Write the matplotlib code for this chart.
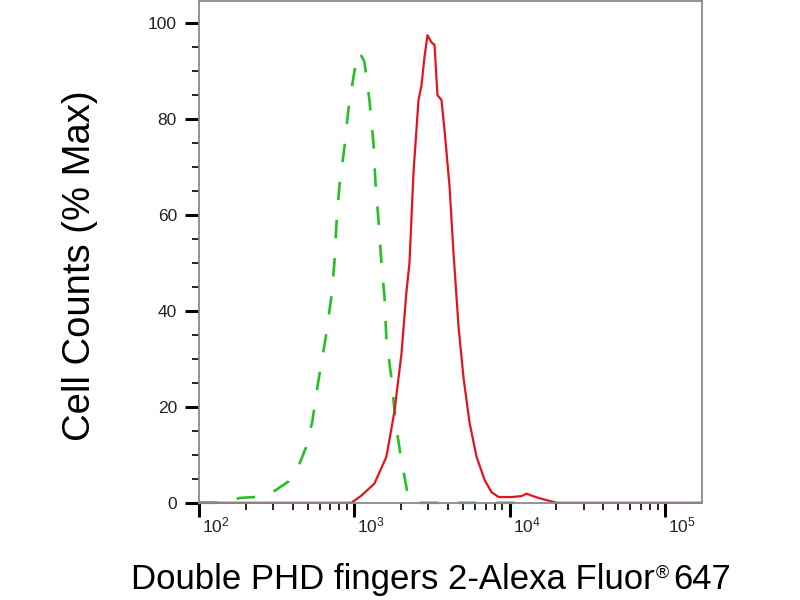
import numpy as np
import matplotlib
matplotlib.use("Agg")
import matplotlib.pyplot as plt
from matplotlib.ticker import MultipleLocator, LogLocator, NullFormatter
from matplotlib.transforms import ScaledTranslation

plt.rcParams['font.family'] = ['Liberation Sans', 'DejaVu Sans']

# isotype control (green, dashed)
ctrl_x = [100, 150, 181, 226, 271, 300, 375, 441, 490, 536, 577, 604, 650, 711,
          743, 766, 800, 862, 915, 1000, 1077, 1160, 1250, 1327, 1366, 1429, 1494,
          1563, 1608, 1733, 1840, 1982, 2199, 2405, 5000, 14000]
ctrl_y = [0, 0, 1.0, 1.2, 1.5, 2.3, 4.4, 8, 11.7, 17, 24, 28, 34, 43,
          50, 58, 66, 74, 82, 90, 94, 92, 84, 75, 67, 59, 50,
          43, 34, 26, 17, 10, 2, 0, 0, 0]

# Double PHD fingers 2 stained (red, solid)
stain_x = [100, 825, 957, 1110, 1346, 1608, 1811, 2010, 2164, 2264, 2405, 2589,
           2706, 2831, 2958, 3141, 3284, 3431, 3641, 3810, 4103, 4354, 4690,
           5052, 5523, 6125, 6899, 7656, 8493, 10300, 11950, 12880, 13870,
           15390, 20100, 173000]
stain_y = [0, 0, 0, 1.5, 4, 9.6, 19, 31, 44, 50, 69, 84,
           87, 93, 97.5, 96, 95.5, 85, 84, 77.7, 66, 52, 36.7,
           26, 16.7, 9.6, 4.8, 2.2, 1.2, 1.2, 1.4, 1.9, 1.5,
           1.0, 0, 0]

tick_font = ['Liberation Sans Narrow', 'Liberation Sans']

fig = plt.figure(figsize=(8, 6), dpi=100)
ax = fig.add_axes([0.249, 0.162, 0.6285, 0.836])

ax.plot(ctrl_x, ctrl_y, color='#26c026', lw=1.9, dashes=(7, 7.5), clip_on=False)
ax.plot(stain_x, stain_y, color='#e3141c', lw=1.6, clip_on=False)

ax.set_xscale('log')
ax.set_xlim(100, 10 ** 5.24)
ax.set_ylim(0, 104.6)

ax.yaxis.set_major_locator(MultipleLocator(20))
ax.yaxis.set_minor_locator(MultipleLocator(5))
ax.set_xticks([1e2, 1e3, 1e4, 1e5],
              labels=[r'$\mathdefault{10^{2}}$', r'$\mathdefault{10^{3}}$',
                      r'$\mathdefault{10^{4}}$', r'$\mathdefault{10^{5}}$'])
ax.xaxis.set_minor_locator(LogLocator(base=10, subs=np.arange(2, 10)))
ax.xaxis.set_minor_formatter(NullFormatter())

for s in ax.spines.values():
    s.set_color('#8a8a8a')
    s.set_linewidth(1.3)

ax.tick_params(which='major', direction='out', length=10, width=2.2,
               color='black', labelsize=12.5, labelcolor='#222222')
ax.tick_params(axis='y', which='major', pad=6)
ax.tick_params(axis='x', which='major', pad=-1)
ax.tick_params(which='minor', direction='out', length=5, width=1.2, color='black')

off = ScaledTranslation(3 / 100, 0, fig.dpi_scale_trans)
for lbl in ax.get_xticklabels():
    lbl.set_ha('left')
    lbl.set_family(tick_font)
    lbl.set_transform(lbl.get_transform() + off)
for lbl in ax.get_yticklabels():
    lbl.set_family(tick_font)

fig.text(0.10, 0.558, 'Cell Counts (% Max)', rotation=90, fontsize=27.5,
         ha='center', va='center')

# x label with a small superscript registered sign
yb = 11 / 600
t1 = fig.text(0, yb, 'Double PHD fingers 2-Alexa Fluor', fontsize=25, va='baseline')
t2 = fig.text(0, yb + 11 / 600, '\u00ae', fontsize=13, va='baseline')
t3 = fig.text(0, yb, '647', fontsize=25, va='baseline')
r = fig.canvas.get_renderer()
w1 = t1.get_window_extent(r).width
w2 = t2.get_window_extent(r).width
w3 = t3.get_window_extent(r).width
gap = 5
x0 = 431 - (w1 + w2 + gap + w3) / 2
t1.set_x(x0 / 800)
t2.set_x((x0 + w1 + 1) / 800)
t3.set_x((x0 + w1 + w2 + gap) / 800)

fig.savefig('out.png', dpi=100)
